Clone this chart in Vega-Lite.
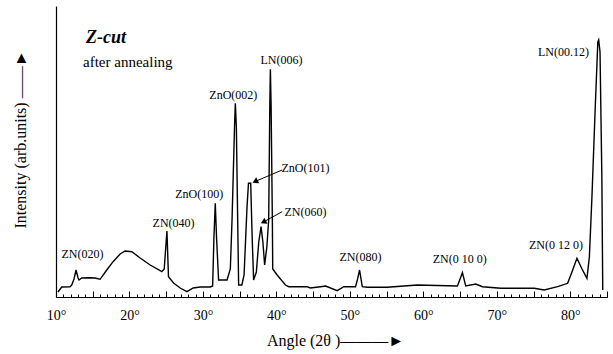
{
  "$schema": "https://vega.github.io/schema/vega-lite/v6.json",
  "width": 551,
  "height": 291,
  "autosize": "none",
  "padding": {"left": 56, "top": 6, "right": 6, "bottom": 57},
  "background": "white",
  "config": {"view": {"stroke": null}, "font": "Liberation Serif"},
  "datasets": {
    "curve": [
      {"a": 10.27, "i": 5}, {"a": 10.78, "i": 10}, {"a": 11.91, "i": 10.3}, {"a": 12.14, "i": 12},
      {"a": 12.45, "i": 18}, {"a": 12.73, "i": 27}, {"a": 13.0, "i": 19}, {"a": 13.14, "i": 17},
      {"a": 13.5, "i": 19}, {"a": 14.64, "i": 19.3}, {"a": 15.3, "i": 19}, {"a": 16.0, "i": 17.7},
      {"a": 16.91, "i": 27}, {"a": 17.77, "i": 35.3}, {"a": 18.73, "i": 43}, {"a": 19.41, "i": 46},
      {"a": 20.32, "i": 45.3}, {"a": 21.45, "i": 39}, {"a": 22.82, "i": 32}, {"a": 24.41, "i": 25.3},
      {"a": 24.73, "i": 28}, {"a": 25.1, "i": 66}, {"a": 25.31, "i": 20.3}, {"a": 26.0, "i": 14},
      {"a": 26.9, "i": 9}, {"a": 27.82, "i": 5.3}, {"a": 28.68, "i": 9}, {"a": 29.64, "i": 10},
      {"a": 31.0, "i": 10}, {"a": 31.32, "i": 11}, {"a": 31.5, "i": 60}, {"a": 31.68, "i": 93.7},
      {"a": 31.85, "i": 60}, {"a": 32.13, "i": 17}, {"a": 33.28, "i": 17}, {"a": 33.73, "i": 28},
      {"a": 33.96, "i": 77}, {"a": 34.3, "i": 170}, {"a": 34.41, "i": 193.7}, {"a": 34.55, "i": 170},
      {"a": 34.73, "i": 77}, {"a": 34.86, "i": 12}, {"a": 35.3, "i": 12}, {"a": 35.6, "i": 22},
      {"a": 36.0, "i": 90}, {"a": 36.2, "i": 113.7}, {"a": 36.5, "i": 113.7}, {"a": 36.7, "i": 60},
      {"a": 36.9, "i": 17}, {"a": 37.27, "i": 25}, {"a": 37.6, "i": 55}, {"a": 37.91, "i": 70.3},
      {"a": 38.16, "i": 55}, {"a": 38.4, "i": 32}, {"a": 38.7, "i": 50}, {"a": 38.95, "i": 77},
      {"a": 39.1, "i": 190}, {"a": 39.18, "i": 227.7}, {"a": 39.28, "i": 190}, {"a": 39.45, "i": 77},
      {"a": 39.5, "i": 28}, {"a": 40.1, "i": 22}, {"a": 41.23, "i": 12}, {"a": 41.68, "i": 10.3},
      {"a": 42.82, "i": 10.3}, {"a": 44.18, "i": 10.3}, {"a": 44.6, "i": 9}, {"a": 46.0, "i": 10.3},
      {"a": 46.7, "i": 11}, {"a": 48.28, "i": 6.3}, {"a": 49.18, "i": 10.3}, {"a": 50.77, "i": 10.3},
      {"a": 51.05, "i": 18}, {"a": 51.32, "i": 27}, {"a": 51.69, "i": 10.3}, {"a": 52.37, "i": 9.7},
      {"a": 55.1, "i": 9.7}, {"a": 59.19, "i": 12}, {"a": 64.64, "i": 11}, {"a": 65.0, "i": 18},
      {"a": 65.32, "i": 24.3}, {"a": 65.77, "i": 11}, {"a": 67.14, "i": 13}, {"a": 68.05, "i": 10.3},
      {"a": 70.55, "i": 8.7}, {"a": 75.09, "i": 8.7}, {"a": 76.45, "i": 7}, {"a": 78.28, "i": 10.3},
      {"a": 79.64, "i": 13.7}, {"a": 80.23, "i": 25}, {"a": 80.91, "i": 38.7}, {"a": 81.6, "i": 28},
      {"a": 82.27, "i": 18.7}, {"a": 82.6, "i": 40}, {"a": 82.95, "i": 100}, {"a": 83.35, "i": 180},
      {"a": 83.75, "i": 255}, {"a": 83.87, "i": 257}, {"a": 84.05, "i": 245}, {"a": 84.3, "i": 120},
      {"a": 84.42, "i": 7}
    ],
    "peaks": [
      {"a": 13.61, "i": 43, "label": "ZN(020)"},
      {"a": 26.0, "i": 73.7, "label": "ZN(040)"},
      {"a": 29.5, "i": 103, "label": "ZnO(100)"},
      {"a": 34.14, "i": 202, "label": "ZnO(002)"},
      {"a": 40.68, "i": 237, "label": "LN(006)"},
      {"a": 43.95, "i": 128.7, "label": "ZnO(101)"},
      {"a": 43.95, "i": 85.3, "label": "ZN(060)"},
      {"a": 51.45, "i": 39.7, "label": "ZN(080)"},
      {"a": 64.96, "i": 37.7, "label": "ZN(0 10 0)"},
      {"a": 78.05, "i": 52, "label": "ZN(0 12 0)"},
      {"a": 79.07, "i": 245.3, "label": "LN(00.12)"}
    ],
    "arrows": [
      {"a": 40.78, "i": 127, "a2": 37.1, "i2": 115.5},
      {"a": 40.78, "i": 85.3, "a2": 38.23, "i2": 75}
    ],
    "title": [{"a": 14.09, "i": 259, "label": "Z-cut"}],
    "sub": [{"a": 13.68, "i": 235, "label": "after annealing"}]
  },
  "layer": [
    {
      "data": {"name": "curve"},
      "mark": {"type": "line", "color": "black", "strokeWidth": 1.4, "interpolate": "linear"},
      "encoding": {
        "x": {
          "field": "a", "type": "quantitative",
          "scale": {"domain": [10, 85], "nice": false, "zero": false},
          "axis": {
            "orient": "bottom",
            "values": [10,11,12,13,14,15,16,17,18,19,20,21,22,23,24,25,26,27,28,29,30,31,32,33,34,35,36,37,38,39,40,41,42,43,44,45,46,47,48,49,50,51,52,53,54,55,56,57,58,59,60,61,62,63,64,65,66,67,68,69,70,71,72,73,74,75,76,77,78,79,80,81,82,83,84,85],
            "tickSize": -3, "tickColor": "black", "tickWidth": 1,
            "labels": false, "grid": false, "domainColor": "black", "domainWidth": 1.2,
            "title": "Angle (2θ )―――►", "titleFont": "Liberation Serif", "titleFontSize": 16,
            "titleFontWeight": "normal", "titleColor": "black", "titleX": 279, "titleY": 48,
            "titleBaseline": "alphabetic", "titleAlign": "center"
          }
        },
        "y": {
          "field": "i", "type": "quantitative",
          "scale": {"domain": [0, 291], "nice": false},
          "axis": {
            "ticks": false, "labels": false, "grid": false, "domainColor": "black", "domainWidth": 1.2,
            "title": "Intensity (arb.units)   ――►", "titleFont": "Liberation Serif", "titleFontSize": 16,
            "titleFontWeight": "normal", "titleColor": "black", "titleX": -28, "titleY": 133,
            "titleAlign": "center", "titleBaseline": "bottom"
          }
        }
      }
    },
    {
      "data": {"name": "curve"},
      "mark": {"type": "line", "opacity": 0},
      "encoding": {
        "x": {
          "field": "a", "type": "quantitative",
          "scale": {"domain": [10, 85], "nice": false, "zero": false},
          "axis": {
            "orient": "bottom",
            "values": [10,15,20,25,30,35,40,45,50,55,60,65,70,75,80,85],
            "tickSize": -6, "tickColor": "black", "tickWidth": 1, "domain": false, "grid": false,
            "labelExpr": "datum.value % 10 == 0 && datum.value < 85 ? datum.value + '°' : ''",
            "labelFont": "Liberation Serif", "labelFontSize": 14, "labelColor": "black",
            "labelPadding": 28, "labelBaseline": "alphabetic", "labelFlush": false, "labelOverlap": false,
            "title": null
          }
        },
        "y": {"field": "i", "type": "quantitative", "scale": {"domain": [0, 291], "nice": false}, "axis": null}
      }
    },
    {
      "data": {"name": "arrows"},
      "mark": {"type": "rule", "color": "black", "strokeWidth": 1},
      "encoding": {
        "x": {"field": "a", "type": "quantitative", "scale": {"domain": [10, 85], "nice": false, "zero": false}, "axis": null},
        "x2": {"field": "a2"},
        "y": {"field": "i", "type": "quantitative", "scale": {"domain": [0, 291], "nice": false}, "axis": null},
        "y2": {"field": "i2"}
      }
    },
    {
      "data": {"name": "arrows"},
      "mark": {"type": "point", "shape": "triangle-up", "filled": true, "color": "black", "size": 45, "angle": 243, "opacity": 1},
      "encoding": {
        "x": {"field": "a2", "type": "quantitative", "scale": {"domain": [10, 85], "nice": false, "zero": false}, "axis": null},
        "y": {"field": "i2", "type": "quantitative", "scale": {"domain": [0, 291], "nice": false}, "axis": null}
      }
    },
    {
      "data": {"name": "peaks"},
      "mark": {"type": "text", "font": "Liberation Serif", "fontSize": 12, "color": "black", "align": "center", "baseline": "middle"},
      "encoding": {
        "x": {"field": "a", "type": "quantitative", "scale": {"domain": [10, 85], "nice": false, "zero": false}, "axis": null},
        "y": {"field": "i", "type": "quantitative", "scale": {"domain": [0, 291], "nice": false}, "axis": null},
        "text": {"field": "label"}
      }
    },
    {
      "data": {"name": "title"},
      "mark": {"type": "text", "font": "Liberation Serif", "fontSize": 18, "fontWeight": "bold", "fontStyle": "italic", "color": "black", "align": "left", "baseline": "middle"},
      "encoding": {
        "x": {"field": "a", "type": "quantitative", "scale": {"domain": [10, 85], "nice": false, "zero": false}, "axis": null},
        "y": {"field": "i", "type": "quantitative", "scale": {"domain": [0, 291], "nice": false}, "axis": null},
        "text": {"field": "label"}
      }
    },
    {
      "data": {"name": "sub"},
      "mark": {"type": "text", "font": "Liberation Serif", "fontSize": 15, "color": "black", "align": "left", "baseline": "middle"},
      "encoding": {
        "x": {"field": "a", "type": "quantitative", "scale": {"domain": [10, 85], "nice": false, "zero": false}, "axis": null},
        "y": {"field": "i", "type": "quantitative", "scale": {"domain": [0, 291], "nice": false}, "axis": null},
        "text": {"field": "label"}
      }
    }
  ],
  "resolve": {"axis": {"x": "independent", "y": "independent"}}
}
